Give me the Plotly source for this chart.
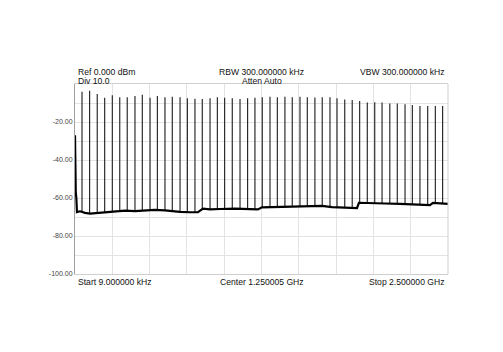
import numpy as np
import plotly.graph_objects as go

# Noise floor (frequency in MHz, level in dBm)
floor_freq = [0.009, 2, 5, 9, 13, 34, 67, 101, 134, 168, 235, 302, 335, 402, 469, 536, 603, 650,
              704, 771, 824, 858, 905, 972, 1072, 1173, 1226, 1253, 1340, 1441, 1508, 1588, 1655,
              1722, 1789, 1856, 1890, 1903, 1977, 2078, 2178, 2259, 2326, 2379, 2399, 2446, 2500]
floor_db = [-27.0, -50.0, -57.0, -60.0, -67.4, -67.0, -67.8, -68.2, -68.0, -67.6, -67.2, -67.0,
            -66.6, -66.9, -66.6, -66.3, -66.5, -67.0, -67.3, -67.5, -67.4, -65.6, -66.0, -65.8,
            -65.6, -65.9, -66.0, -64.9, -64.7, -64.5, -64.4, -63.9, -64.1, -64.8, -65.0, -65.2,
            -65.3, -62.5, -62.8, -62.9, -63.1, -63.3, -63.5, -63.8, -62.6, -62.9, -63.1]

# Harmonic spikes (frequency in MHz, peak in dBm)
spike_freq = [47, 98, 149, 199, 250, 300, 350, 402, 451, 503, 552, 603, 652, 704, 753, 804,
              853, 905, 954, 1003, 1054, 1106, 1157, 1206, 1255, 1307, 1356, 1407, 1456, 1508,
              1557, 1608, 1657, 1709, 1756, 1808, 1858, 1908, 1959, 2009, 2058, 2110, 2160,
              2212, 2261, 2312, 2364, 2415, 2464]
spike_db = [-4.1, -3.5, -5.3, -7.2, -5.9, -7.0, -7.0, -6.3, -5.6, -7.2, -6.3, -7.0, -6.7, -7.0,
            -7.5, -7.8, -7.9, -7.5, -7.0, -7.2, -7.5, -7.9, -7.5, -7.2, -7.0, -6.7, -7.0, -6.7,
            -7.0, -6.7, -7.0, -7.1, -7.0, -7.0, -7.5, -8.1, -8.4, -8.9, -9.8, -9.6, -9.8, -10.2,
            -10.2, -10.7, -11.1, -11.6, -11.6, -11.6, -11.6]

y_tick_vals = [0, -10, -20, -30, -40, -50, -60, -70, -80, -90, -100]
y_tick_text = ["", "", "-20.00", "", "-40.00", "", "-60.00", "", "-80.00", "", "-100.00"]
x_grid_vals = [0, 250, 500, 750, 1000, 1250, 1500, 1750, 2000, 2250, 2500]

header_left = ["Ref 0.000 dBm", "Div 10.0"]
header_mid = ["RBW 300.000000 kHz", "Atten Auto"]
header_right = "VBW 300.000000 kHz"
footer = ["Start 9.000000 kHz", "Center 1.250005 GHz", "Stop 2.500000 GHz"]

# build spike segments
sx, sy = [], []
bases = np.interp(spike_freq, floor_freq, floor_db)
for f, p, b in zip(spike_freq, spike_db, bases):
    sx += [f, f, None]
    sy += [b, p, None]

fig = go.Figure()
fig.add_trace(go.Scatter(x=sx, y=sy, mode="lines", line=dict(color="#1a1a1a", width=1.1),
                         hoverinfo="skip", showlegend=False))
fig.add_trace(go.Scatter(x=floor_freq, y=floor_db, mode="lines",
                         line=dict(color="#000000", width=2.2), showlegend=False))

font_family = "Liberation Sans, Arial, sans-serif"
fig.update_layout(
    width=503, height=352,
    margin=dict(l=75, r=55, t=84, b=78),
    paper_bgcolor="white", plot_bgcolor="white",
    font=dict(family=font_family, color="#222"),
    xaxis=dict(range=[0, 2500], tickvals=x_grid_vals, showticklabels=False,
               showgrid=True, gridcolor="#e3e3e3", gridwidth=1, zeroline=False,
               showline=True, linecolor="#cfcfcf", linewidth=1, mirror=True, ticks=""),
    yaxis=dict(range=[-100, 0], tickvals=y_tick_vals, ticktext=y_tick_text,
               showgrid=True, gridcolor="#e3e3e3", gridwidth=1, zeroline=False,
               showline=True, linecolor="#a0a0a0", linewidth=1, mirror=False, ticks="",
               tickfont=dict(size=7, color="#444444", family=font_family)),
)
fig.add_shape(type="line", xref="paper", yref="paper", x0=1, x1=1, y0=0, y1=1,
              line=dict(color="#cfcfcf", width=1))

fs = 8.6
ann = [
    dict(x=0.005, y=1, yanchor="bottom", xanchor="left", text=header_left[0], yshift=6),
    dict(x=0.005, y=1, yanchor="bottom", xanchor="left", text=header_left[1], yshift=-3),
    dict(x=0.5, y=1, yanchor="bottom", xanchor="center", text=header_mid[0], yshift=6),
    dict(x=0.5, y=1, yanchor="bottom", xanchor="center", text=header_mid[1], yshift=-3),
    dict(x=0.995, y=1, yanchor="bottom", xanchor="right", text=header_right, yshift=6),
    dict(x=0.005, y=0, yanchor="top", xanchor="left", text=footer[0], yshift=-2),
    dict(x=0.5, y=0, yanchor="top", xanchor="center", text=footer[1], yshift=-2),
    dict(x=0.995, y=0, yanchor="top", xanchor="right", text=footer[2], yshift=-2),
]
for a in ann:
    fig.add_annotation(xref="paper", yref="paper", showarrow=False,
                       font=dict(size=fs, color="#111", family=font_family),
                       borderpad=0, **a)

fig.write_html("out.html")
